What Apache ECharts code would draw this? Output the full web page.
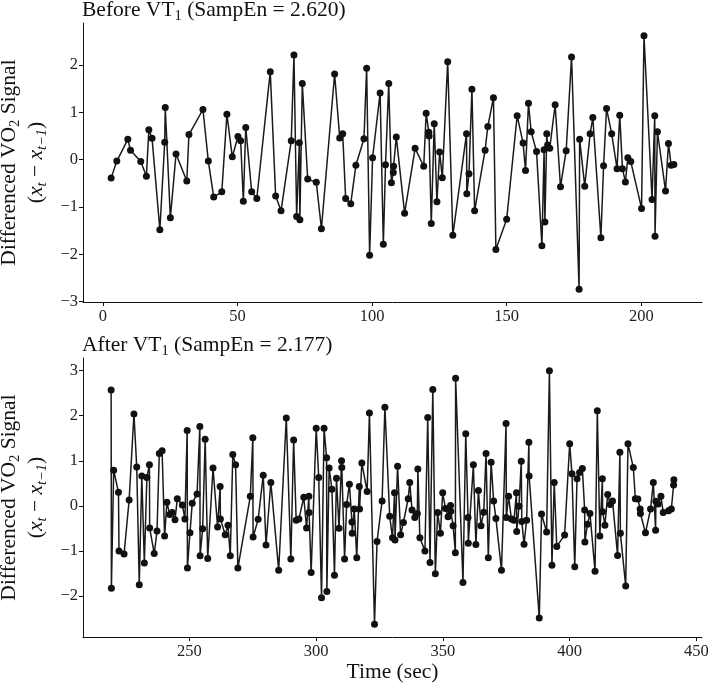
<!DOCTYPE html>
<html>
<head>
<meta charset="utf-8">
<script src="https://cdn.jsdelivr.net/npm/echarts@6/dist/echarts.min.js"></script>
<style>
  html, body { margin: 0; padding: 0; background: #fff; }
  #chart { width: 709px; height: 688px; }
</style>
</head>
<body>
<div id="chart"></div>
<script>
// ---- Data ----
const beforeTime = [3.1, 5.2, 9.3, 10.3, 14.1, 16.2, 17.1, 18.3, 21.2, 23.0, 23.2, 25.1, 27.2, 31.2, 32.0, 37.2, 39.2, 41.2, 44.2, 46.1, 48.1, 50.2, 51.2, 52.2, 53.1, 55.3, 57.2, 62.2, 64.2, 66.2, 70.0, 71.0, 72.0, 73.0, 73.2, 74.1, 76.1, 79.3, 81.2, 86.1, 88.0, 89.1, 90.2, 92.1, 94.0, 97.0, 98.0, 99.1, 100.2, 103.0, 104.2, 105.0, 106.2, 107.2, 107.9, 108.0, 109.0, 112.1, 116.0, 119.2, 120.1, 121.1, 121.2, 122.0, 123.1, 124.1, 125.1, 126.1, 128.1, 130.0, 135.1, 135.2, 136.0, 137.1, 138.1, 142.0, 143.0, 145.1, 146.0, 150.0, 153.9, 156.1, 157.0, 158.1, 159.1, 161.1, 163.1, 163.9, 164.2, 164.9, 165.2, 166.0, 168.0, 170.0, 172.1, 174.1, 176.9, 177.1, 179.0, 181.0, 182.0, 185.0, 186.0, 187.1, 189.0, 191.0, 192.0, 193.0, 194.1, 195.0, 196.1, 200.1, 201.0, 204.0, 205.0, 205.1, 206.0, 209.0, 210.1, 211.1, 212.1];
const beforeValue = [-0.39, -0.03, 0.43, 0.20, -0.04, -0.35, 0.63, 0.45, -1.48, 0.37, 1.10, -1.23, 0.12, -0.45, 0.53, 1.06, -0.03, -0.79, -0.68, 0.96, 0.06, 0.49, 0.40, -0.88, 0.68, -0.68, -0.82, 1.86, -0.77, -1.08, 0.40, 2.21, -1.20, 0.36, -1.27, 1.61, -0.41, -0.48, -1.46, 1.81, 0.46, 0.55, -0.82, -0.93, -0.12, 0.44, 1.93, -2.02, 0.04, 1.41, -1.79, -0.11, 1.61, -0.49, -0.27, -0.14, 0.48, -1.13, 0.24, -0.14, 0.98, 0.58, 0.50, -1.35, 0.76, -0.89, 0.16, -0.38, 2.07, -1.60, 0.55, -0.72, -0.30, 1.49, -1.08, 0.20, 0.70, 1.31, -1.90, -1.26, 0.93, 0.35, -0.23, 1.19, 0.59, 0.17, -1.82, 0.21, -1.32, 0.55, 0.31, 0.24, 1.16, -0.57, 0.19, 2.17, -2.74, 0.43, -0.56, 0.55, 0.89, -1.65, -0.13, 1.08, 0.55, -0.19, 0.94, -0.19, -0.47, 0.04, -0.04, -1.03, 2.62, -0.84, 0.93, -1.62, 0.59, -0.66, 0.34, -0.12, -0.10];

const afterTime = [219.1, 219.2, 220.1, 222.0, 222.2, 224.2, 226.2, 228.1, 229.2, 230.2, 231.2, 232.2, 233.2, 234.2, 234.3, 236.1, 237.2, 238.1, 239.2, 240.2, 241.1, 242.2, 243.2, 244.3, 245.2, 247.2, 248.2, 249.1, 249.2, 250.2, 251.1, 253.0, 254.1, 254.2, 255.2, 256.2, 257.2, 259.3, 261.1, 262.1, 262.2, 264.1, 265.2, 266.1, 267.1, 268.2, 269.1, 274.0, 275.0, 275.1, 277.1, 279.1, 280.2, 282.1, 285.2, 288.2, 290.0, 291.1, 292.1, 293.2, 295.1, 296.2, 297.1, 297.2, 298.0, 300.0, 301.0, 302.1, 303.1, 304.1, 304.2, 305.1, 306.2, 307.2, 308.0, 309.0, 310.0, 310.1, 311.2, 312.0, 313.1, 314.1, 314.2, 315.0, 316.0, 317.0, 317.1, 318.0, 320.1, 321.0, 323.0, 324.0, 326.0, 327.1, 329.0, 330.1, 330.9, 331.1, 332.1, 333.3, 334.4, 336.3, 336.9, 337.8, 338.9, 339.9, 340.1, 340.9, 342.9, 344.0, 344.9, 346.0, 347.0, 347.9, 349.0, 349.9, 351.0, 352.0, 353.0, 353.1, 354.0, 354.9, 355.0, 357.9, 359.0, 359.9, 360.0, 362.0, 363.0, 364.0, 365.0, 366.1, 367.0, 367.9, 369.0, 370.0, 370.9, 373.1, 374.9, 375.0, 375.9, 377.0, 378.0, 379.0, 379.1, 380.0, 380.9, 381.1, 382.0, 383.0, 383.9, 384.0, 388.0, 388.9, 390.9, 392.0, 393.0, 393.9, 394.9, 398.0, 400.0, 400.9, 402.0, 402.9, 403.9, 405.0, 405.9, 406.0, 407.0, 408.0, 410.0, 410.9, 411.9, 412.9, 413.0, 413.9, 415.0, 416.0, 416.9, 418.9, 419.8, 420.0, 422.1, 423.0, 425.1, 425.9, 426.9, 427.8, 427.9, 429.9, 431.9, 433.0, 433.9, 434.0, 434.9, 436.0, 436.9, 439.0, 440.1, 441.0, 441.1];
const afterValue = [2.57, -1.83, 0.79, 0.30, -1.00, -1.07, 0.13, 2.04, 0.86, -1.75, 0.66, -1.27, 0.63, 0.91, -0.49, -1.06, -0.56, 1.16, 1.22, -0.67, 0.08, -0.19, -0.15, -0.31, 0.16, 0.02, -0.29, 1.67, -1.38, -0.60, 0.06, 0.26, 1.76, -1.11, -0.51, 1.48, -1.17, 0.84, -0.47, 0.43, -0.29, -0.64, -0.43, -1.11, 1.14, 0.91, -1.38, 0.21, 1.51, -0.69, -0.30, 0.68, -0.87, 0.52, -1.43, 1.95, -1.18, 1.46, -0.32, -0.29, 0.19, -0.49, 0.21, -0.15, -1.48, 1.72, 0.63, -2.04, 1.72, 1.07, -1.90, 0.84, 0.37, -1.54, 0.61, -0.50, 1.00, 0.85, -1.18, 0.03, 0.48, -0.36, -0.61, -0.07, -1.15, 0.43, -0.07, 0.95, 0.32, 2.06, -2.63, -0.79, 0.11, 2.19, -0.23, -0.71, 0.29, -0.76, 0.88, -0.64, -0.37, 0.16, 0.52, -0.09, -0.26, -0.17, 0.82, -0.71, -1.00, 1.96, -1.26, 2.58, -1.51, -0.15, -0.61, 0.29, -0.06, -0.24, 0.01, -0.12, -0.44, -1.04, 2.83, -1.70, 1.60, -0.26, -0.83, 0.91, -0.86, 0.34, -0.44, -0.14, 1.16, -1.15, 0.97, 0.11, -0.28, -1.43, 1.83, -0.26, 0.21, -0.29, -0.32, 0.29, -0.57, -0.01, 0.99, -0.35, -0.85, -0.32, 1.41, 0.66, -2.49, -0.18, -0.58, 3.00, -1.32, 0.52, -0.90, -0.65, 1.38, 0.71, -1.35, 0.60, 0.74, 0.83, -0.09, -0.80, -0.41, -0.17, -1.45, 2.11, -0.67, 0.60, -0.13, -0.43, 0.25, 0.03, 0.11, -1.10, 1.19, -0.61, -1.78, 1.38, 0.85, 0.16, 0.15, -0.07, -0.17, -0.60, -0.07, 0.52, -0.54, 0.10, 0.04, 0.21, -0.15, -0.11, -0.07, 0.46, 0.58];

const beforeXTicks = [0, 50, 100, 150, 200];
const afterXTicks = [250, 300, 350, 400, 450];
const beforeYTicks = [-3, -2, -1, 0, 1, 2];
const afterYTicks = [-2, -1, 0, 1, 2, 3];

const beforeEntropy = '2.620';
const afterEntropy = '2.177';

// ---- Build chart ----
const FONT = '"Liberation Serif", "DejaVu Serif", serif';
const INK = '#111';

function pairs(xs, ys) { return xs.map((x, i) => [x, ys[i]]); }
function expand(arr) {
  const lo = Math.min(...arr), hi = Math.max(...arr), pad = (hi - lo) * 0.05;
  return [lo - pad, hi + pad];
}
const fmt = v => String(v).replace('-', '\u2212');

const richText = {
  r: { fontFamily: FONT, fontSize: 21.5, lineHeight: 27, color: INK, fontWeight: 'normal' },
  i: { fontFamily: FONT, fontSize: 21.5, lineHeight: 27, color: INK, fontStyle: 'italic', fontWeight: 'normal' },
  sb: { fontFamily: FONT, fontSize: 14.5, lineHeight: 14, color: INK, verticalAlign: 'bottom', fontWeight: 'normal' },
  si: { fontFamily: FONT, fontSize: 14.5, lineHeight: 14, color: INK, fontStyle: 'italic', verticalAlign: 'bottom', fontWeight: 'normal' }
};

const yName = '{r|Differenced VO}{sb|2}{r| Signal}\n{r|(}{i|x}{si|t}{r| \u2212 }{i|x}{si|t\u22121}{r|)}';

function xAxis(idx, ticks, ext, name) {
  return {
    type: 'value', gridIndex: idx, min: ext[0], max: ext[1],
    name: name || '', nameLocation: 'middle', nameGap: 22,
    nameTextStyle: { fontFamily: FONT, fontSize: 21.5, color: INK },
    axisLine: { show: true, onZero: false, lineStyle: { color: INK, width: 1 } },
    axisTick: { show: true, length: 4, lineStyle: { color: INK }, customValues: ticks },
    axisLabel: { fontFamily: FONT, fontSize: 16.5, color: '#222', margin: 6, customValues: ticks, formatter: fmt },
    splitLine: { show: false }
  };
}
function yAxis(idx, ticks, ext) {
  return {
    type: 'value', gridIndex: idx, min: ext[0], max: ext[1],
    name: yName, nameLocation: 'middle', nameRotate: 90, nameGap: 33,
    nameTextStyle: { rich: richText, align: 'center' },
    axisLine: { show: true, onZero: false, lineStyle: { color: INK, width: 1 } },
    axisTick: { show: true, length: 4, lineStyle: { color: INK }, customValues: ticks },
    axisLabel: { fontFamily: FONT, fontSize: 16.5, color: '#222', margin: 5, customValues: ticks, formatter: fmt },
    splitLine: { show: false }
  };
}

function series(idx, xs, ys) {
  return {
    type: 'line', xAxisIndex: idx, yAxisIndex: idx,
    data: pairs(xs, ys),
    symbol: 'circle', symbolSize: 7, showAllSymbol: true,
    itemStyle: { color: INK },
    lineStyle: { color: '#1a1a1a', width: 1.5 },
    emphasis: { disabled: true },
    animation: false
  };
}

const chart = echarts.init(document.getElementById('chart'), null, { renderer: 'canvas' });
chart.setOption({
  backgroundColor: '#fff',
  animation: false,
  title: [
    { text: '{r|Before VT}{sb|1}{r| (SampEn = ' + beforeEntropy + ')}', left: 82, top: -3, padding: 0, textStyle: { rich: richText, fontWeight: 'normal' } },
    { text: '{r|After VT}{sb|1}{r| (SampEn = ' + afterEntropy + ')}', left: 82, top: 332, padding: 0, textStyle: { rich: richText, fontWeight: 'normal' } }
  ],
  grid: [
    { left: 83, top: 23, width: 619, height: 279, containLabel: false, outerBoundsMode: 'none' },
    { left: 83, top: 358, width: 619, height: 279, containLabel: false, outerBoundsMode: 'none' }
  ],
  xAxis: [
    xAxis(0, beforeXTicks, expand(beforeTime)),
    xAxis(1, afterXTicks, expand(afterTime), 'Time (sec)')
  ],
  yAxis: [
    yAxis(0, beforeYTicks, expand(beforeValue)),
    yAxis(1, afterYTicks, expand(afterValue))
  ],
  series: [
    series(0, beforeTime, beforeValue),
    series(1, afterTime, afterValue)
  ]
});
</script>
</body>
</html>
